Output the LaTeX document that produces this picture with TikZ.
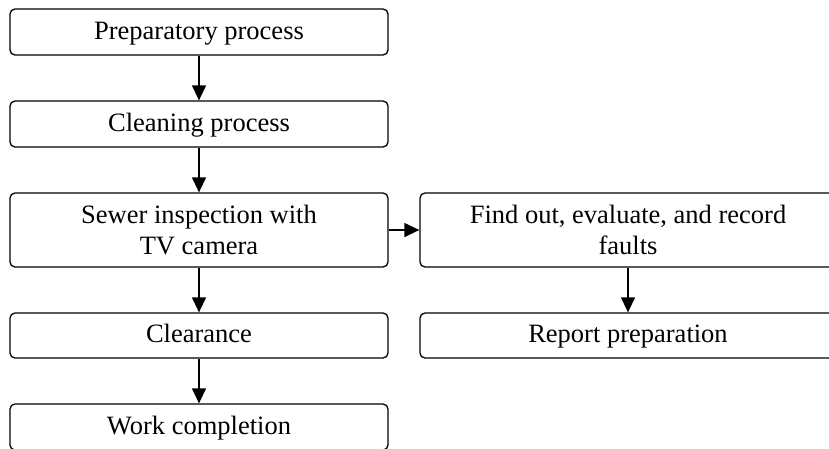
\documentclass[tikz,border=0pt]{standalone}
\usepackage{fontspec}
\setmainfont{Liberation Serif}
\usetikzlibrary{arrows.meta}
\begin{document}
\begin{tikzpicture}[x=1pt,y=-1pt,
  box/.style={draw, line width=1.3pt, rounded corners=5pt, inner sep=0pt, align=center,
    font=\fontsize{26.5}{31}\selectfont},
  lbox/.style={box, minimum width=378pt},
  rbox/.style={box, minimum width=416pt},
  oneline/.style={text height=19pt, text depth=5pt},
  link/.style={line width=1.3pt, -{Triangle[length=15pt,width=14pt]}}]
\useasboundingbox (0,0) rectangle (829,448);
\clip (0,0) rectangle (829,448);
\node[lbox, oneline, minimum height=46pt] (a) at (199,32) {Preparatory process};
\node[lbox, oneline, minimum height=46pt] (b) at (199,124) {Cleaning process};
\node[lbox, minimum height=74pt] (c) at (199,230) {Sewer inspection with\\TV camera};
\node[lbox, oneline, minimum height=45pt] (d) at (199,335.5) {Clearance};
\node[lbox, oneline, minimum height=46pt] (e) at (199,427) {Work completion};
\node[rbox, minimum height=74pt] (f) at (628,230) {Find out, evaluate, and record\\faults};
\node[rbox, oneline, minimum height=45pt] (g) at (628,335.5) {Report preparation};
\draw[link] (a) -- (b);
\draw[link] (b) -- (c);
\draw[link] (c) -- (d);
\draw[link] (d) -- (e);
\draw[link] (c) -- (f);
\draw[link] (f) -- (g);
\end{tikzpicture}
\end{document}
